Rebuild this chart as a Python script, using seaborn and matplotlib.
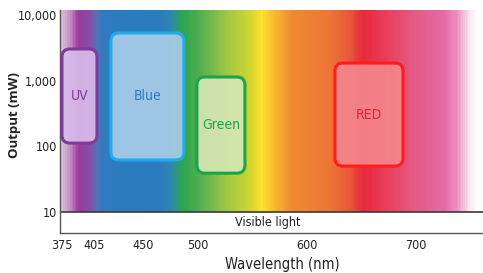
import numpy as np
import matplotlib
matplotlib.use("Agg")
import matplotlib.pyplot as plt
import seaborn as sns
from matplotlib.colors import LinearSegmentedColormap
from matplotlib.patches import FancyBboxPatch
from matplotlib.transforms import IdentityTransform
from matplotlib import font_manager

# ---- data ----
spectrum_nm = [373.5, 380.8, 390.0, 399.0, 406.4, 412.9, 465.1, 474.3, 486.2, 501.8,
               524.7, 545.8, 558.6, 570.5, 586.1, 620.9, 639.2, 651.2, 671.4, 698.9,
               726.4, 738.3, 749.3, 756.6, 761.2]
spectrum_colors = ["#dcc4dc", "#c898c8", "#9a3c9c", "#8a4aa4", "#5a6eb4", "#2e7bbf",
                   "#2a7bbf", "#2e86b0", "#2ea650", "#52ae50", "#9cc644", "#cad432",
                   "#fde22c", "#f8b830", "#ef8a32", "#ec7634", "#e8583a", "#e82a3c",
                   "#e83c58", "#e45a84", "#e46aa6", "#ec90c0", "#fae4f0", "#ffffff",
                   "#ffffff"]

box_names = ["UV", "Blue", "Green", "RED"]
box_nm_lo = [375.3, 420.2, 499.0, 625.5]
box_nm_hi = [407.4, 487.1, 543.0, 687.9]
box_mw_lo = [112, 62, 39, 50]
box_mw_hi = [3030, 5300, 1135, 1850]
box_fill = ["#d9bbea", "#a9cce8", "#d5e7b3", "#f4858b"]
box_edge = ["#7d3c98", "#22aaee", "#1aa54c", "#ff1c1c"]
box_text = ["#7d3c98", "#2a7cc0", "#1aa54c", "#e5232e"]

x_ticks = [375, 405, 450, 500, 600, 700]
y_ticks = [10, 100, 1000, 10000]
y_tick_labels = ["10", "100", "1,000", "10,000"]

# ---- style ----
sns.set_theme(style="white")
names = {f.name for f in font_manager.fontManager.ttflist}
cond = [f for f in font_manager.fontManager.ttflist
        if f.name == 'DejaVu Sans' and f.stretch == 'condensed']
if 'Liberation Sans Narrow' in names:
    plt.rcParams['font.family'] = ['Liberation Sans Narrow', 'DejaVu Sans']
elif cond:
    plt.rcParams['font.family'] = ['DejaVu Sans']
    plt.rcParams['font.stretch'] = 'condensed'
else:
    plt.rcParams['font.family'] = ['Roboto', 'DejaVu Sans']

fig = plt.figure(figsize=(4.83, 2.73), dpi=100)
ax = fig.add_axes([60/483, 40/273, 423/483, 223/273])
ax.set_yscale('log')
x0, x1 = 373.5, 761.2
y0, y1 = 4.79, 11880
ax.set_xlim(x0, x1)
ax.set_ylim(y0, y1)

# spectrum gradient
pos = [(v - x0) / (x1 - x0) for v in spectrum_nm]
cmap = LinearSegmentedColormap.from_list('spec', list(zip(pos, spectrum_colors)))
xe = np.linspace(x0, x1, 900)
xc = (xe[:-1] + xe[1:]) / 2
ax.pcolormesh(xe, [10, y1], xc[None, :], cmap=cmap, vmin=x0, vmax=x1,
              shading='flat', rasterized=True)
ax.axhline(10, color="#3a3a3a", lw=1.2)

# rounded boxes
r = 8
for name, lo, hi, mlo, mhi, fc, ec, tc in zip(box_names, box_nm_lo, box_nm_hi,
                                               box_mw_lo, box_mw_hi, box_fill,
                                               box_edge, box_text):
    (px0, py0) = ax.transData.transform((lo, mlo))
    (px1, py1) = ax.transData.transform((hi, mhi))
    p = FancyBboxPatch((px0, py0), px1 - px0, py1 - py0,
                       boxstyle=f"round,pad=0,rounding_size={r}",
                       transform=IdentityTransform(),
                       facecolor=matplotlib.colors.to_rgba(fc, 0.92),
                       edgecolor=ec, lw=2.2, zorder=3)
    ax.add_patch(p)
    ax.text((lo + hi) / 2, np.sqrt(mlo * mhi), name, color=tc, fontsize=10,
            ha='center', va='center', zorder=4)

ax.text((268 - 60) / 423, 0.047, "Visible light", transform=ax.transAxes,
        ha='center', va='center', fontsize=9, color="#222222")

# axes
sns.despine(ax=ax)
for s in ['left', 'bottom']:
    ax.spines[s].set_color("#555555")
    ax.spines[s].set_linewidth(1.0)
ax.set_xticks(x_ticks)
ax.set_xticklabels([str(t) for t in x_ticks])
ax.set_yticks(y_ticks)
ax.set_yticklabels(y_tick_labels)
ax.minorticks_off()
ax.tick_params(axis='both', length=0, labelsize=9, colors="#222222")
ax.tick_params(axis='y', pad=2)
ax.tick_params(axis='x', pad=4)

ax.set_xlabel("Wavelength (nm)", fontsize=10.5, color="#222222")
ax.xaxis.set_label_coords((282 - 60) / 423, (233 - 265) / 223)
ax.xaxis.label.set_va('center')
ax.set_ylabel("Output (mW)", fontsize=9.5, fontweight='bold',
              family=['Open Sans', 'DejaVu Sans'], color="#222222")
ax.yaxis.set_label_coords((15 - 60) / 423, (233 - 115) / 223)
ax.yaxis.label.set_va('center')

fig.savefig("out.png", dpi=100)
